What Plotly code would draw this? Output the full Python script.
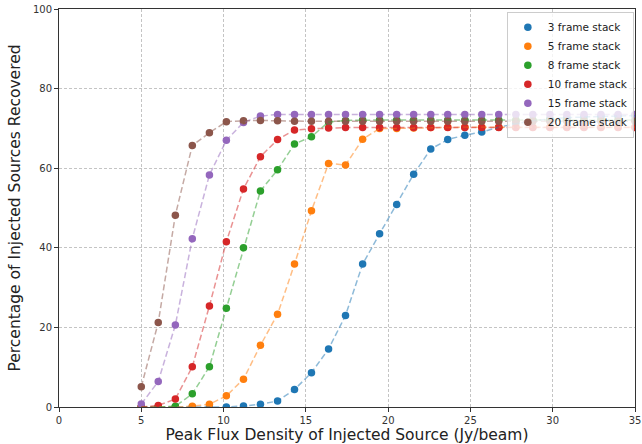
import plotly.graph_objects as go

# Peak flux density of the injected sources (Jy/beam)
flux = [5.00, 6.03, 7.07, 8.10, 9.14, 10.17, 11.21, 12.24, 13.28, 14.31,
        15.34, 16.38, 17.41, 18.45, 19.48, 20.52, 21.55, 22.59, 23.62, 24.66,
        25.69, 26.72, 27.76, 28.79, 29.83, 30.86, 31.90, 32.93, 33.97, 35.00]

# Recovery percentage for each stack depth
stack3 = [0, 0, 0, 0, 0, 0.0, 0.25, 0.7, 1.5, 4.4,
          8.6, 14.6, 23.0, 35.9, 43.5, 50.9, 58.5, 64.8, 67.2, 68.3,
          69.1, 70.3, 71.2, 71.9, 72.4, 72.7, 72.9, 73.0, 73.1, 73.2]
stack5 = [0, 0, 0, 0.2, 0.7, 2.8, 7.0, 15.5, 23.3, 35.9,
          49.3, 61.2, 60.8, 67.3, 70.0, 70.0, 70.1, 70.2, 70.3, 70.3,
          70.3, 70.3, 70.3, 70.3, 70.3, 70.3, 70.3, 70.3, 70.3, 70.3]
stack8 = [0, 0, 0.2, 3.3, 10.1, 24.8, 40.0, 54.3, 59.6, 66.1,
          67.9, 71.6, 72.0, 72.1, 72.1, 72.1, 72.1, 72.1, 72.1, 72.1,
          72.1, 72.1, 72.1, 72.1, 72.1, 72.1, 72.1, 72.1, 72.1, 72.1]
stack10 = [0, 0.4, 2.0, 10.1, 25.4, 41.5, 54.8, 62.9, 67.2, 69.6,
           69.9, 70.1, 70.2, 70.2, 70.2, 70.2, 70.2, 70.2, 70.2, 70.2,
           70.2, 70.2, 70.2, 70.2, 70.2, 70.2, 70.2, 70.2, 70.2, 70.2]
stack15 = [0.75, 6.4, 20.6, 42.3, 58.3, 67.0, 71.5, 73.1, 73.5, 73.5,
           73.5, 73.5, 73.5, 73.5, 73.5, 73.5, 73.5, 73.5, 73.5, 73.5,
           73.5, 73.5, 73.5, 73.5, 73.5, 73.5, 73.5, 73.5, 73.5, 73.5]
stack20 = [5.1, 21.2, 48.2, 65.7, 68.9, 71.7, 71.9, 72.0, 71.9, 71.8,
           71.8, 71.8, 71.8, 71.8, 71.8, 71.8, 71.8, 71.8, 71.8, 71.8,
           71.8, 71.8, 71.8, 71.8, 71.8, 71.8, 71.8, 71.8, 71.8, 71.8]

labels = ["3 frame stack", "5 frame stack", "8 frame stack",
          "10 frame stack", "15 frame stack", "20 frame stack"]
series = [stack3, stack5, stack8, stack10, stack15, stack20]
colors = ["#1f77b4", "#ff7f0e", "#2ca02c", "#d62728", "#9467bd", "#8c564b"]

FONT = "DejaVu Sans"

fig = go.Figure()

# markers (legend entries)
for lab, ys, col in zip(labels, series, colors):
    fig.add_trace(go.Scatter(
        x=flux, y=ys, mode="markers", name=lab,
        marker=dict(color=col, size=7.5, line=dict(width=0)),
    ))

# translucent dashed connecting lines, drawn above the markers
for lab, ys, col in zip(labels, series, colors):
    fig.add_trace(go.Scatter(
        x=flux, y=ys, mode="lines", showlegend=False, hoverinfo="skip",
        line=dict(color=col, width=1.5, dash="6px,3px"), opacity=0.5,
    ))

axis_common = dict(
    showline=True, linecolor="#333333", linewidth=1, mirror=True,
    ticks="outside", ticklen=4, tickcolor="#333333", tickwidth=1,
    showgrid=True, gridcolor="#c4c4c4", gridwidth=1, griddash="3px,2px",
    zeroline=False, ticklabeloverflow="allow",
    tickfont=dict(family=FONT, size=10, color="#333333"),
)

fig.update_layout(
    width=642, height=444,
    margin=dict(l=59, r=1, t=9, b=37),
    paper_bgcolor="white", plot_bgcolor="white",
    font=dict(family=FONT, color="#222222"),
    xaxis=dict(
        range=[0, 35], tickmode="array", tickvals=[0, 5, 10, 15, 20, 25, 30, 35],
        title=dict(text="Peak Flux Density of Injected Source (Jy/beam)",
                   font=dict(family=FONT, size=15.5, color="#222222"), standoff=6),
        **axis_common,
    ),
    yaxis=dict(
        range=[0, 100], tickmode="array", tickvals=[0, 20, 40, 60, 80, 100],
        title=dict(text="Percentage of Injected Sources Recovered",
                   font=dict(family=FONT, size=15.5, color="#222222"), standoff=8),
        **axis_common,
    ),
    legend=dict(
        x=0.998, y=0.993, xanchor="right", yanchor="top",
        bgcolor="rgba(255,255,255,0.8)", bordercolor="#cccccc", borderwidth=1,
        font=dict(family=FONT, size=10.5, color="#222222"),
        itemwidth=30, tracegroupgap=0,
    ),
)

fig.write_html("out.html")
